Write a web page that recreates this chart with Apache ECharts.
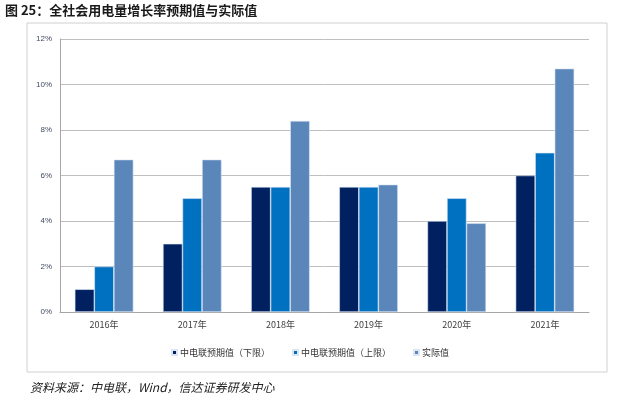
<!DOCTYPE html>
<html><head><meta charset="utf-8">
<style>html,body{margin:0;padding:0;background:#fff}#c{width:620px;height:394px}</style>
<script src="https://cdn.jsdelivr.net/npm/echarts@6/dist/echarts.min.js"></script>
</head><body><div id="c"></div>
<script>
const categories = ['2016年','2017年','2018年','2019年','2020年','2021年'];
const lowerExpected = [1, 3, 5.5, 5.5, 4, 6];
const upperExpected = [2, 5, 5.5, 5.5, 5, 7];
const actualValues = [6.7, 6.7, 8.4, 5.6, 3.9, 10.7];
const seriesNames = ['中电联预期值（下限）','中电联预期值（上限）','实际值'];
const yTicks = [0, 2, 4, 6, 8, 10, 12];

const chart = echarts.init(document.getElementById('c'), null, {renderer:'canvas'});
const colors = ['#002060','#0070C0','#5A86BA'];
const mk = (i, data) => ({
  name: seriesNames[i], type:'bar', data, barGap:'0%', barCategoryGap:'33.5%',
  itemStyle:{color:colors[i], borderColor:'#DCE6F2', borderWidth:0.6}
});
chart.setOption({
  animation:false,
  color: colors,
  graphic:[
    {type:'text', left:5, top:4, style:{text:'图 25：全社会用电量增长率预期值与实际值', font:'bold 13px "Noto Sans CJK SC"', fill:'#1a1a1a'}},
    {type:'rect', shape:{x:27, y:23, width:580, height:349}, style:{fill:'none', stroke:'#D0D0D0', lineWidth:1}, silent:true},
    {type:'text', left:30, top:381, style:{text:'资料来源：中电联，Wind，信达证券研发中心', font:'italic 12px "Noto Sans CJK SC"', fill:'#222'}}
  ],
  grid:{left:60, right:31, top:39, bottom:82, containLabel:false},
  legend:{
    top:343, left:'center', itemWidth:5, itemHeight:5, itemGap:22, icon:'rect',
    textStyle:{fontSize:9, color:'#333', fontFamily:'"Noto Sans CJK SC"', padding:[0,0,0,-2]},
    data: seriesNames
  },
  xAxis:{
    type:'category', data:categories,
    axisLine:{lineStyle:{color:'#A6A6A6', width:1}},
    axisTick:{show:false},
    axisLabel:{fontSize:9, color:'#404040', margin:8, fontFamily:'"Noto Sans CJK SC"'}
  },
  yAxis:{
    type:'value', min:0, max:12, interval:2,
    axisLine:{show:true, lineStyle:{color:'#A6A6A6'}},
    axisTick:{show:false},
    splitLine:{lineStyle:{color:'#BFBFBF', width:1}},
    axisLabel:{fontSize:8, color:'#404a60', margin:8, formatter: v => (yTicks.includes(v) ? v + '%' : '')}
  },
  series:[mk(0, lowerExpected), mk(1, upperExpected), mk(2, actualValues)]
});
</script></body></html>
